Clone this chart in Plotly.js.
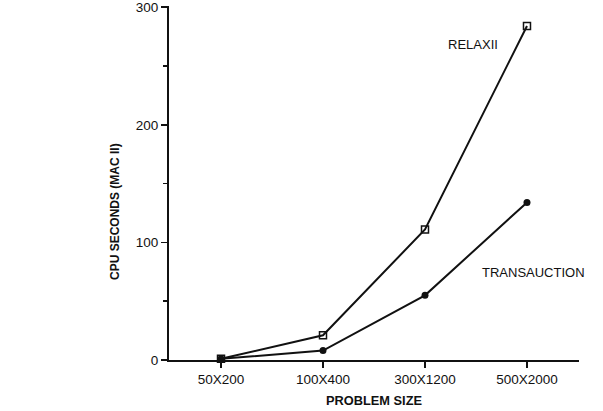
<!DOCTYPE html>
<html>
<head>
<meta charset="utf-8">
<script src="https://cdn.plot.ly/plotly-3.0.1.min.js"></script>
<style>
  html, body { margin: 0; padding: 0; background: #fff; }
  #chart { width: 603px; height: 411px; }
</style>
</head>
<body>
<div id="chart"></div>
<script>
// problem sizes on the x axis
const sizes = ["50X200", "100X400", "300X1200", "500X2000"];
// CPU seconds
const relaxii = [1, 21, 111, 284];
const transauction = [1, 8, 55, 134];

const xpos = sizes.map(function (s, i) { return i; });

const lineStyle = { color: "#111", width: 2 };

const traces = [
  {
    x: xpos, y: relaxii, type: "scatter", mode: "lines+markers",
    name: "RELAXII", line: lineStyle,
    marker: { symbol: "square-open", size: 7, color: "#111", line: { width: 1.5 } },
    cliponaxis: false
  },
  {
    x: xpos, y: transauction, type: "scatter", mode: "lines+markers",
    name: "TRANSAUCTION", line: lineStyle,
    marker: { symbol: "circle", size: 7, color: "#111" },
    cliponaxis: false
  }
];

const font = { family: "Liberation Sans, Arial, sans-serif", color: "#111", size: 13.5 };

const layout = {
  width: 603, height: 411,
  margin: { l: 169, r: 24, t: 6, b: 51 },
  showlegend: false,
  paper_bgcolor: "#fff", plot_bgcolor: "#fff",
  font: font,
  xaxis: {
    range: [-0.51, 3.51],
    tickvals: xpos, ticktext: sizes,
    showgrid: false, zeroline: false,
    showline: true, linewidth: 2, linecolor: "#111",
    ticks: "outside", ticklen: 6, tickwidth: 1.5, tickcolor: "#111",
    ticklabeloverflow: "allow",
    title: { text: "<b>PROBLEM SIZE</b>", font: { size: 12.8 }, standoff: 10 }
  },
  yaxis: {
    range: [0, 301],
    tickmode: "linear", tick0: 0, dtick: 100,
    showgrid: false, zeroline: false,
    showline: true, linewidth: 2, linecolor: "#111",
    ticks: "outside", ticklen: 6, tickwidth: 1.5, tickcolor: "#111",
    ticklabeloverflow: "allow",
    minor: { dtick: 50, ticks: "outside", ticklen: 4, tickwidth: 1.5, tickcolor: "#111", showgrid: false }
  },
  annotations: [
    { xref: "paper", yref: "paper", x: -0.152, y: 0.42, textangle: -90,
      text: "<b>CPU SECONDS (MAC II)</b>", showarrow: false, font: { size: 12 } },
    { x: 2.47, y: 268, text: "RELAXII", showarrow: false, font: { size: 13 } },
    { x: 3.06, y: 74, text: "TRANSAUCTION", showarrow: false, font: { size: 13 } }
  ]
};

Plotly.newPlot("chart", traces, layout, { staticPlot: true });
</script>
</body>
</html>
